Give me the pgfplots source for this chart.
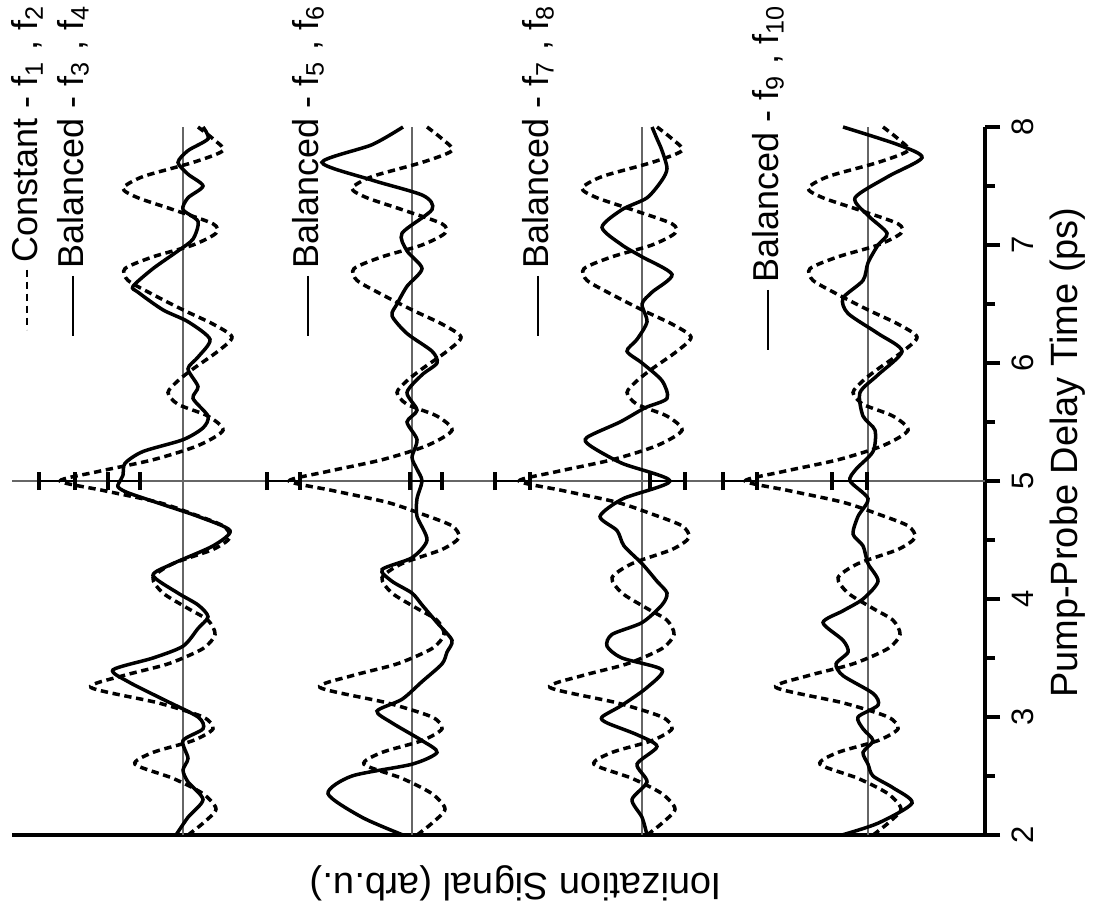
\documentclass[border=0pt]{standalone}
\usepackage{pgfplots}
\pgfplotsset{compat=1.18}
\usepackage{pgfplotstable}
\usepackage{fontspec}
\setmainfont{Liberation Sans}

% signal s in px, positive = towards the left of the page
\pgfplotstableread{
t s
2.00 -5
2.10 -20
2.22 -33
2.35 -20
2.48 10
2.60 48
2.70 30
2.80 -10
2.90 -30
3.00 -20
3.12 25
3.25 92
3.35 60
3.45 15
3.58 -20
3.70 -32
3.82 -25
3.92 -5
4.05 20
4.18 30
4.30 10
4.42 -30
4.52 -47
4.62 -40
4.72 -10
4.82 25
4.92 80
5.00 123
5.08 85
5.18 30
5.30 -15
5.43 -40
5.55 -25
5.65 5
5.75 15
5.85 5
5.95 -10
6.10 -35
6.22 -49
6.33 -30
6.45 0
6.58 30
6.70 55
6.80 58
6.90 30
7.00 -10
7.10 -33
7.18 -30
7.30 10
7.40 45
7.48 60
7.58 40
7.70 -10
7.80 -40
7.90 -30
8.00 -15
}\constant

\pgfplotstableread{
t s
2.00 7
2.15 -5
2.30 -20
2.45 -5
2.55 0
2.65 -5
2.80 0
2.90 -20
3.00 -15
3.15 20
3.30 55
3.40 70
3.50 30
3.60 0
3.75 -15
3.85 -25
3.95 -15
4.05 5
4.20 30
4.30 10
4.45 -30
4.58 -47
4.70 -15
4.80 20
4.90 55
4.95 65
5.00 63
5.05 60
5.15 58
5.25 40
5.35 0
5.45 -20
5.55 -25
5.70 -10
5.80 -15
5.95 -5
6.05 -15
6.20 -27
6.35 -5
6.45 20
6.60 45
6.65 50
6.80 30
6.95 5
7.05 -10
7.20 -15
7.30 0
7.40 -5
7.50 -20
7.60 -5
7.70 5
7.80 -5
7.90 -25
8.00 -20
}\balA

\pgfplotstableread{
t s
2.00 9
2.15 50
2.35 84
2.50 60
2.60 0
2.70 -25
2.80 -10
2.95 20
3.05 35
3.15 10
3.30 -10
3.45 -30
3.55 -35
3.65 -40
3.80 -25
3.95 -10
4.05 0
4.15 20
4.25 30
4.35 0
4.50 -15
4.70 -5
4.85 -5
5.00 -10
5.10 -5
5.20 0
5.35 -5
5.50 5
5.60 -5
5.75 5
5.90 -10
6.00 -25
6.10 -20
6.25 5
6.40 20
6.50 15
6.65 5
6.80 -10
6.95 5
7.10 10
7.30 -20
7.42 -11
7.55 40
7.70 90
7.85 40
8.00 9
}\balB

\pgfplotstableread{
t s
2.00 -5
2.15 0
2.30 10
2.45 -5
2.60 5
2.75 -15
2.85 5
2.95 35
3.00 40
3.10 20
3.25 -5
3.40 -20
3.50 20
3.60 35
3.70 30
3.80 0
3.95 -20
4.05 -25
4.15 -15
4.30 0
4.45 18
4.58 25
4.70 42
4.85 19
5.00 -28
5.15 20
5.30 52
5.37 55
5.50 22
5.62 -3
5.70 -25
5.85 -20
6.00 0
6.10 15
6.20 5
6.35 -5
6.50 0
6.60 -10
6.75 -30
6.90 0
7.00 20
7.15 40
7.30 20
7.40 -5
7.55 -20
7.65 -25
7.80 -20
7.90 -15
8.00 -10
}\balC

\pgfplotstableread{
t s
2.00 26
2.10 -10
2.27 -44
2.40 -25
2.50 -5
2.60 0
2.70 5
2.80 -5
2.90 5
3.00 10
3.10 -10
3.20 -5
3.35 25
3.45 32
3.55 20
3.65 25
3.80 45
3.90 25
4.00 5
4.15 -10
4.30 0
4.45 5
4.55 15
4.70 10
4.85 0
5.00 18
5.10 12
5.25 -5
5.43 -7
5.55 5
5.75 8
5.90 -10
6.10 -34
6.25 -10
6.42 20
6.55 25
6.70 5
6.85 0
7.00 -10
7.10 -19
7.25 0
7.40 13
7.58 -20
7.74 -54
7.85 -30
8.00 25
}\balD

\tikzset{
  sig/.style={black, line width=1.05pt, smooth, tension=0.45},
  cst/.style={sig, dash pattern=on 2.2pt off 1.4pt},
  base/.style={gray!80!black, line width=0.5pt},
  leg/.style={rotate=90, anchor=east, inner sep=0pt, font=\fontsize{10.8}{12}\selectfont},
  sample/.style={line width=0.8pt},
}

\begin{document}
\begin{tikzpicture}
\useasboundingbox (-3.6pt,-24.6pt) rectangle (325.2pt,250.5pt);
\begin{axis}[
  scale only axis, width=291.9pt, height=212.4pt,
  xmin=12, xmax=985, ymin=2, ymax=8,
  hide x axis, axis y line*=right,
  axis line style={line width=1pt},
  ytick={2,...,8}, minor ytick={2.5,3.5,...,7.5},
  tick align=outside, major tick length=4.5pt, minor tick length=3pt,
  tick style={line width=1pt, black},
  yticklabel style={rotate=90, anchor=north, font=\fontsize{9.3}{10}\selectfont},
  /pgf/number format/assume math mode=true,
  clip=false]

% bottom frame line (the signal axis, no ticks)
\draw[line width=1pt] (rel axis cs:0,0) -- (rel axis cs:1,0);

% reference lines
\addplot[base] coordinates {(183,2) (183,8)};
\addplot[base] coordinates {(412,2) (412,8)};
\addplot[base] coordinates {(642,2) (642,8)};
\addplot[base] coordinates {(868,2) (868,8)};
\addplot[base, line width=0.6pt] coordinates {(12,5) (985,5)};

% constant pulse, repeated in every panel
\addplot[cst] table[x expr=183-\thisrow{s}, y=t] {\constant};
\addplot[cst] table[x expr=412-\thisrow{s}, y=t] {\constant};
\addplot[cst] table[x expr=642-\thisrow{s}, y=t] {\constant};
\addplot[cst] table[x expr=868-\thisrow{s}, y=t] {\constant};

% balanced pulses
\addplot[sig] table[x expr=183-\thisrow{s}, y=t] {\balA};
\addplot[sig] table[x expr=412-\thisrow{s}, y=t] {\balB};
\addplot[sig] table[x expr=642-\thisrow{s}, y=t] {\balC};
\addplot[sig] table[x expr=868-\thisrow{s}, y=t] {\balD};

% error bars at zero delay
\addplot[draw=none, mark=none,
  error bars/.cd, x dir=both, x explicit, error mark=|,
  error bar style={draw=black, solid, line width=0.8pt},
  error mark options={draw=black, solid, mark size=2.7pt, line width=1pt}]
  coordinates {
  (57,5) +- (18,0) (124,5) +- (16,0)
  (283.5,5) +- (16.5,0) (426,5) +- (16,0)
  (512.5,5) +- (17.5,0) (667.5,5) +- (17.5,0)
  (740,5) +- (17,0) (849.5,5) +- (17.5,0)};

% rotated legend, text ends at the top edge
\node[leg] (L1) at (axis cs:27,9.04) {Constant - f\textsubscript{1} , f\textsubscript{2}};
\draw[cst, sample] ([yshift=-2pt]L1.west) -- ([yshift=-20pt]L1.west);
\node[leg] (L2) at (axis cs:73,9.04) {Balanced - f\textsubscript{3} , f\textsubscript{4}};
\draw[sig, sample] ([yshift=-2pt]L2.west) -- ([yshift=-20pt]L2.west);
\node[leg] (L3) at (axis cs:308,9.04) {Balanced - f\textsubscript{5} , f\textsubscript{6}};
\draw[sig, sample] ([yshift=-2pt]L3.west) -- ([yshift=-20pt]L3.west);
\node[leg] (L4) at (axis cs:538,9.04) {Balanced - f\textsubscript{7} , f\textsubscript{8}};
\draw[sig, sample] ([yshift=-2pt]L4.west) -- ([yshift=-20pt]L4.west);
\node[leg] (L5) at (axis cs:768,9.04) {Balanced - f\textsubscript{9} , f\textsubscript{10}};
\draw[sig, sample] ([yshift=-2pt]L5.west) -- ([yshift=-20pt]L5.west);

% axis titles
\node[rotate=90, font=\fontsize{11.4}{13}\selectfont] at (axis cs:1068,5.24) {Pump-Probe Delay Time (ps)};
\node[rotate=180, font=\fontsize{11.4}{13}\selectfont] at (axis cs:516,1.59) {Ionization Signal (arb.u.)};
\end{axis}
\end{tikzpicture}
\end{document}
